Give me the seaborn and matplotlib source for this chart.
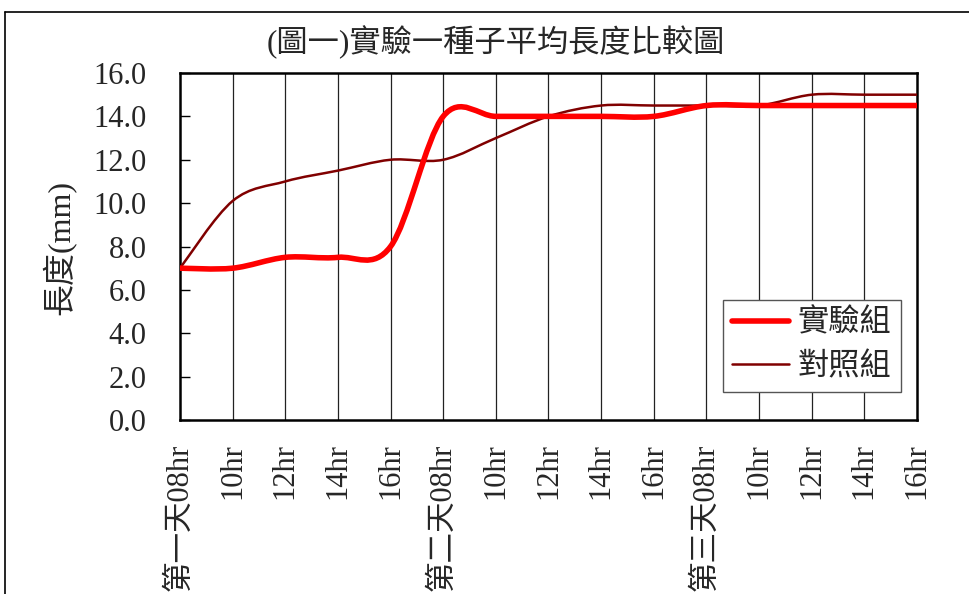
import matplotlib.pyplot as plt
import numpy as np
import pandas as pd
import seaborn as sns
from matplotlib.lines import Line2D
from matplotlib.patches import PathPatch
from matplotlib.path import Path

categories = [
    "第一天08hr", "10hr", "12hr", "14hr", "16hr",
    "第二天08hr", "10hr", "12hr", "14hr", "16hr",
    "第三天08hr", "10hr", "12hr", "14hr", "16hr",
]
experiment = [7.0, 7.0, 7.5, 7.5, 8.0, 14.0, 14.0, 14.0, 14.0, 14.0, 14.5, 14.5, 14.5, 14.5, 14.5]
control = [7.0, 10.1, 11.0, 11.5, 12.0, 12.0, 13.0, 14.0, 14.5, 14.5, 14.5, 14.5, 15.0, 15.0, 15.0]
y_ticks = [0, 2, 4, 6, 8, 10, 12, 14, 16]

title = "(圖一)實驗一種子平均長度比較圖"
y_label = "長度(mm)"
series_names = ["實驗組", "對照組"]


def smooth_path(xs, ys):
    # spreadsheet-style smoothed line: cubic bezier through every point
    pts = np.column_stack([xs, ys]).astype(float)
    verts = [pts[0]]
    codes = [Path.MOVETO]
    for i in range(len(pts) - 1):
        p0 = pts[max(i - 1, 0)]
        p1 = pts[i]
        p2 = pts[i + 1]
        p3 = pts[min(i + 2, len(pts) - 1)]
        verts += [p1 + (p2 - p0) / 6, p2 - (p3 - p1) / 6, p2]
        codes += [Path.CURVE4] * 3
    return Path(verts, codes)


sns.set_theme(style="white")
plt.rcParams["font.family"] = ["Liberation Serif", "Noto Sans CJK TC"]

frame = pd.DataFrame({"pos": range(len(categories)), "experiment": experiment, "control": control})

fig = plt.figure(figsize=(9.7, 5.94), dpi=100)
ax = fig.add_axes([180 / 970, 1 - 420 / 594, 737 / 970, 347 / 594])

ax.add_patch(PathPatch(smooth_path(frame["pos"], frame["control"]), fill=False,
                       edgecolor="#800000", lw=1.8, capstyle="round", joinstyle="round", zorder=3))
ax.add_patch(PathPatch(smooth_path(frame["pos"], frame["experiment"]), fill=False,
                       edgecolor="#ff0000", lw=4.0, capstyle="round", joinstyle="round", zorder=4))

ax.set_xlim(0, len(categories) - 1)
ax.set_ylim(0, 16)
ax.set_xticks(frame["pos"])
ax.set_xticklabels(categories, rotation=90, fontsize=22, va="top", ha="center")
ax.set_yticks(y_ticks)
ax.set_yticklabels([f"{v:.1f}" for v in y_ticks], fontsize=22)
ax.tick_params(axis="y", direction="in", length=7, width=1, color="black", pad=24, left=True)
ax.tick_params(axis="x", length=0, pad=17)
ax.set_xlabel("")
ax.set_ylabel("")

for pos in frame["pos"][1:-1]:
    ax.axvline(pos, color="#222222", lw=0.9, zorder=1)
for side in ["left", "right", "top", "bottom"]:
    ax.spines[side].set_visible(True)
    ax.spines[side].set_color("black")
    ax.spines[side].set_linewidth(1.8)

handles = [Line2D([], [], color="#ff0000", lw=4.0, solid_capstyle="round"),
           Line2D([], [], color="#800000", lw=1.8)]
leg = fig.legend(handles, series_names, loc="upper left", bbox_to_anchor=(723 / 970, 1 - 300 / 594),
                 bbox_transform=fig.transFigure, fontsize=22.5, frameon=True, fancybox=False,
                 edgecolor="#555555", framealpha=1, borderaxespad=0, borderpad=0.3,
                 handlelength=1.8, handletextpad=0.3, labelspacing=0.45)
leg.get_frame().set_linewidth(1.0)

fig.text(496 / 970, 1 - 42 / 594, title, ha="center", va="center", fontsize=22.5)
fig.text(60 / 970, 1 - 247 / 594, y_label, ha="center", va="center", rotation=90, fontsize=23)

# outer chart-area border (cut off at right and bottom)
fig.add_artist(Line2D([5 / 970, 1], [1 - 12 / 594, 1 - 12 / 594], color="black", lw=1.2,
                      transform=fig.transFigure))
fig.add_artist(Line2D([5 / 970, 5 / 970], [0, 1 - 12 / 594], color="black", lw=1.2,
                      transform=fig.transFigure))

fig.savefig("out.png", dpi=100, facecolor="white")
plt.close(fig)
